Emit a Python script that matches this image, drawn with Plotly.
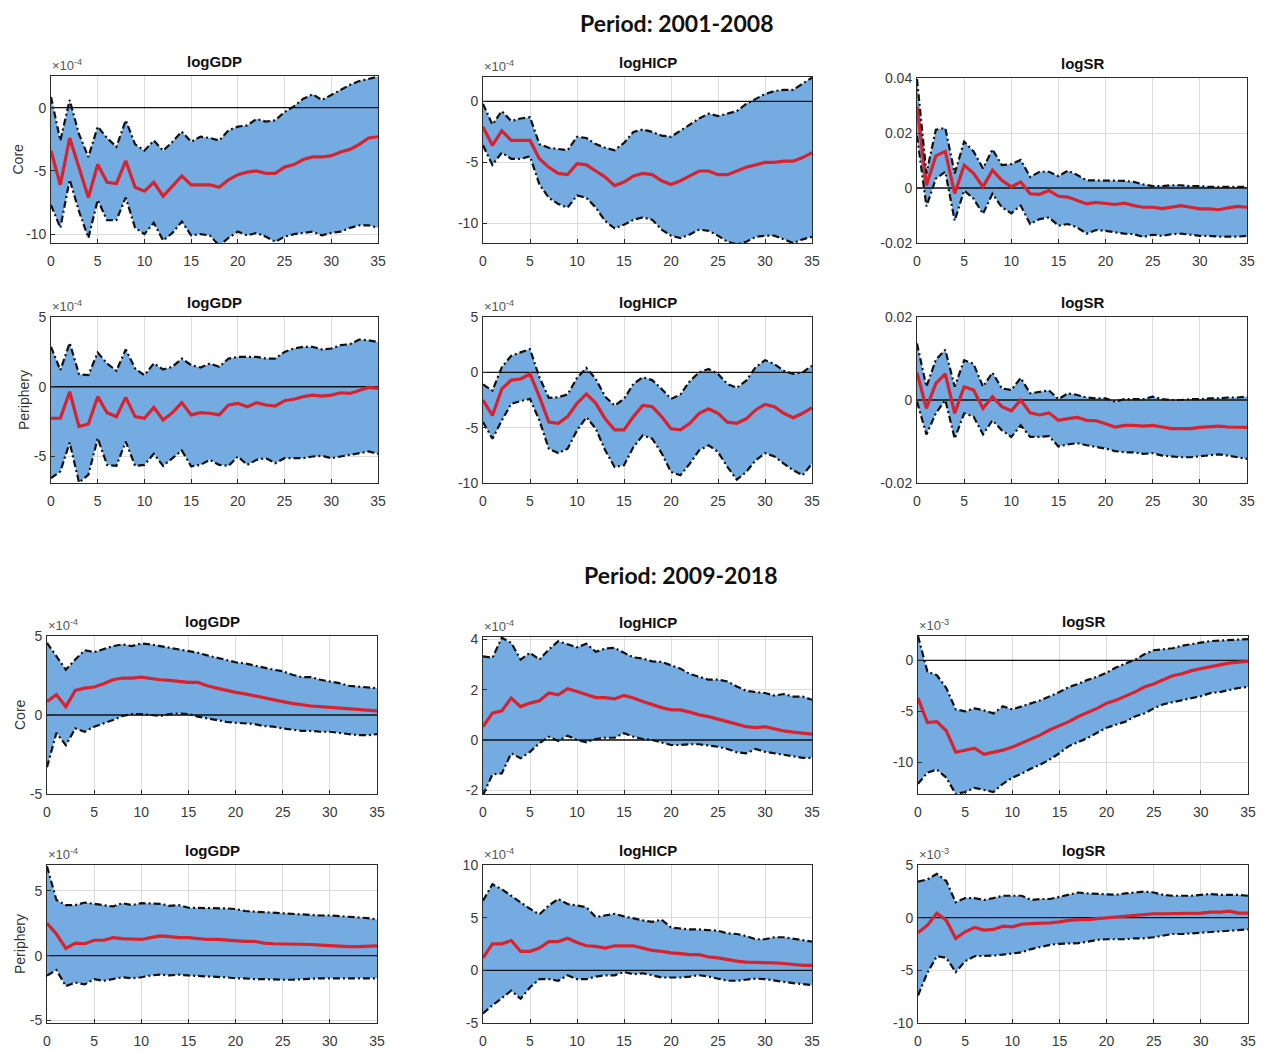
import plotly.graph_objects as go

W, H = 1265, 1053          # browser window
OFF = 8                     # default page margin around the figure
FW, FH = W - OFF, H - OFF   # figure size
HORIZON = list(range(36))

# ---------------- Period 2001-2008 ----------------
# Core logGDP (x1e-4)
a_core_gdp_lo = [-7.7,-9.5,-5.7,-8.2,-10.3,-7.3,-8.9,-8.9,-7.1,-9.5,-10.0,-9.1,-10.5,-9.9,-9.0,-10.1,-10.0,-10.1,-10.9,-10.3,-9.8,-10.1,-9.9,-10.2,-10.6,-10.2,-10.0,-9.9,-9.8,-10.1,-9.9,-9.8,-9.5,-9.3,-9.3,-9.5]
a_core_gdp_md = [-3.4,-6.1,-2.4,-4.7,-7.1,-4.5,-5.9,-6.0,-4.2,-6.3,-6.6,-5.9,-7.0,-6.2,-5.4,-6.1,-6.1,-6.1,-6.3,-5.7,-5.3,-5.1,-5.0,-5.2,-5.2,-4.7,-4.5,-4.1,-3.9,-3.9,-3.8,-3.5,-3.3,-2.9,-2.4,-2.3]
a_core_gdp_hi = [0.85,-2.6,0.6,-2.1,-3.9,-1.5,-2.4,-3.1,-1.0,-2.9,-3.4,-2.6,-3.4,-2.7,-1.9,-2.7,-2.3,-2.4,-2.6,-1.8,-1.5,-1.4,-0.9,-1.1,-1.0,-0.35,0.1,0.7,1.05,0.6,1.0,1.4,1.8,2.1,2.3,2.45]
# Core logHICP (x1e-4)
a_core_hicp_lo = [-3.6,-5.2,-4.2,-4.7,-4.7,-4.5,-6.8,-7.9,-8.4,-8.7,-7.7,-7.9,-8.7,-9.8,-10.4,-10.1,-9.7,-9.5,-9.7,-10.5,-11.0,-11.2,-10.9,-10.5,-10.6,-11.0,-11.5,-11.7,-11.5,-11.1,-11.0,-11.0,-11.3,-11.6,-11.3,-11.1]
a_core_hicp_md = [-2.1,-3.6,-2.4,-3.2,-3.2,-3.2,-4.7,-5.4,-5.9,-6.0,-5.1,-5.2,-5.7,-6.2,-6.9,-6.6,-6.1,-5.9,-6.0,-6.5,-6.8,-6.5,-6.1,-5.7,-5.7,-6.0,-6.0,-5.7,-5.4,-5.2,-5.0,-5.0,-4.9,-4.9,-4.6,-4.2]
a_core_hicp_hi = [-0.2,-1.9,-0.8,-1.6,-1.4,-1.3,-3.5,-3.8,-3.9,-4.0,-2.9,-3.0,-3.5,-3.8,-4.0,-3.4,-2.5,-2.3,-2.5,-2.8,-2.9,-2.4,-1.9,-1.4,-1.0,-1.2,-1.0,-0.8,-0.2,0.2,0.6,0.85,0.95,0.95,1.45,1.95]
# Core logSR
a_core_sr_lo = [0.019,-0.0067,0.0034,0.0059,-0.0119,-0.0009,-0.0039,-0.0094,-0.0021,-0.007,-0.0092,-0.0064,-0.0131,-0.0113,-0.0107,-0.0137,-0.0131,-0.0144,-0.0166,-0.0153,-0.0156,-0.0162,-0.0166,-0.0168,-0.0178,-0.017,-0.0174,-0.0168,-0.0166,-0.017,-0.0174,-0.0174,-0.0177,-0.0177,-0.0177,-0.0174]
a_core_sr_md = [0.0296,0.001,0.0117,0.0133,-0.002,0.0083,0.0053,0.0004,0.0065,0.0028,0.0004,0.0022,-0.0021,-0.0023,-0.0009,-0.003,-0.0033,-0.0045,-0.0058,-0.0052,-0.0055,-0.006,-0.0055,-0.0064,-0.007,-0.007,-0.0075,-0.007,-0.0064,-0.007,-0.0076,-0.0076,-0.0079,-0.0072,-0.0067,-0.007]
a_core_sr_hi = [0.0396,0.0053,0.0212,0.0218,0.0053,0.0169,0.0133,0.0071,0.0141,0.0083,0.0087,0.0102,0.004,0.0059,0.0059,0.0043,0.0063,0.0047,0.0028,0.0028,0.0026,0.0026,0.0026,0.0022,0.0013,0.0007,0.0007,0.001,0.001,0.0007,0.0007,0.0004,0.0004,0.0004,0.0005,0.0004]
# Periphery logGDP (x1e-4)
a_per_gdp_lo = [-6.55,-6.07,-4.0,-6.86,-6.31,-3.69,-5.6,-5.67,-3.93,-5.67,-5.6,-4.81,-5.67,-5.12,-4.57,-5.71,-5.6,-5.24,-5.6,-5.67,-5.0,-5.6,-5.24,-5.12,-5.48,-5.12,-5.12,-5.12,-5.0,-4.95,-5.12,-5.0,-4.88,-4.76,-4.64,-4.81]
a_per_gdp_md = [-2.26,-2.26,-0.36,-2.86,-2.67,-0.71,-1.86,-2.14,-0.76,-2.14,-2.26,-1.48,-2.38,-1.86,-1.14,-2.02,-1.86,-1.9,-2.02,-1.31,-1.19,-1.43,-1.14,-1.31,-1.38,-1.0,-0.9,-0.71,-0.6,-0.67,-0.6,-0.43,-0.48,-0.24,-0.05,-0.12]
a_per_gdp_hi = [2.86,1.19,3.14,0.9,0.83,2.45,1.67,1.14,2.67,1.31,0.83,1.67,1.24,1.43,2.02,1.55,1.38,1.67,1.43,2.02,2.14,2.14,2.14,2.02,2.02,2.5,2.74,2.86,2.86,2.67,2.74,2.98,3.05,3.38,3.33,3.21]
# Periphery logHICP (x1e-4)
a_per_hicp_lo = [-4.5,-6.0,-4.35,-2.85,-2.6,-2.4,-4.35,-6.9,-7.3,-6.9,-5.25,-4.05,-5.1,-7.05,-8.55,-8.4,-6.75,-5.7,-6.0,-7.3,-9.0,-9.3,-8.25,-7.05,-6.6,-7.2,-8.55,-9.7,-9.0,-7.95,-7.3,-7.6,-8.25,-8.85,-9.3,-8.25]
a_per_hicp_md = [-2.5,-3.9,-1.5,-0.7,-0.6,-0.15,-2.2,-4.5,-4.6,-4.0,-2.8,-1.95,-2.8,-4.2,-5.2,-5.2,-4.0,-3.0,-3.1,-4.0,-5.1,-5.2,-4.6,-3.7,-3.3,-3.7,-4.5,-4.6,-4.2,-3.4,-2.9,-3.1,-3.7,-4.1,-3.7,-3.2]
a_per_hicp_hi = [-1.1,-1.65,0.45,1.5,1.8,2.1,-0.45,-2.3,-2.25,-2.0,-0.5,0.4,-0.6,-2.2,-3.0,-2.4,-1.05,-0.45,-0.7,-1.5,-2.4,-2.0,-0.8,0.0,0.3,-0.15,-1.05,-1.4,-0.75,0.45,1.1,0.75,0.15,-0.15,0.0,0.6]
# Periphery logSR
a_per_sr_lo = [-0.0004,-0.0083,-0.0032,0.0,-0.0093,-0.0032,-0.004,-0.0083,-0.0049,-0.0073,-0.0089,-0.0061,-0.0089,-0.0089,-0.0087,-0.0112,-0.0107,-0.0104,-0.0109,-0.0113,-0.0117,-0.0123,-0.0126,-0.0126,-0.013,-0.0128,-0.0134,-0.0136,-0.0138,-0.0138,-0.0136,-0.0134,-0.0131,-0.0134,-0.0138,-0.0142]
a_per_sr_md = [0.0066,-0.002,0.004,0.0063,-0.0032,0.0032,0.0024,-0.002,0.0008,-0.0016,-0.0026,0.0,-0.0031,-0.0036,-0.0031,-0.0049,-0.0045,-0.0042,-0.0049,-0.005,-0.0057,-0.0065,-0.0061,-0.0061,-0.0063,-0.0061,-0.0065,-0.0069,-0.0069,-0.0069,-0.0066,-0.0065,-0.0063,-0.0065,-0.0065,-0.0066]
a_per_sr_hi = [0.0136,0.0032,0.0097,0.0121,0.0032,0.0096,0.0087,0.0032,0.0066,0.0028,0.0024,0.0053,0.0016,0.002,0.0023,0.0002,0.0016,0.0012,0.0006,0.0004,0.0004,-0.0004,0.0002,0.0002,0.0002,0.0008,0.0002,0.0,0.0,0.0002,0.0002,0.0004,0.0004,0.0006,0.0006,0.0008]

# ---------------- Period 2009-2018 ----------------
# Core logGDP (x1e-4)
b_core_gdp_lo = [-3.3,-1.13,-1.91,-0.85,-1.06,-0.74,-0.53,-0.32,-0.06,0.06,0.06,0.0,-0.06,0.06,0.1,0.06,-0.1,-0.21,-0.32,-0.43,-0.49,-0.53,-0.57,-0.7,-0.74,-0.85,-0.91,-1.0,-1.0,-1.06,-1.06,-1.13,-1.21,-1.28,-1.28,-1.21]
b_core_gdp_md = [0.85,1.28,0.53,1.55,1.7,1.77,1.98,2.23,2.34,2.34,2.4,2.3,2.23,2.19,2.13,2.06,2.06,1.85,1.7,1.55,1.43,1.34,1.21,1.06,0.96,0.85,0.74,0.64,0.57,0.53,0.49,0.43,0.36,0.32,0.28,0.26]
b_core_gdp_hi = [4.57,3.72,2.87,3.51,4.1,3.98,4.19,4.36,4.47,4.36,4.53,4.47,4.36,4.26,4.15,4.04,3.94,3.77,3.62,3.51,3.34,3.26,3.13,2.98,2.87,2.77,2.55,2.4,2.4,2.23,2.13,2.02,1.85,1.81,1.77,1.7]
# Core logHICP (x1e-4)
b_core_hicp_lo = [-2.2,-1.37,-1.33,-0.53,-0.73,-0.47,-0.13,0.13,-0.04,0.17,0.0,-0.09,0.04,0.09,0.09,0.27,0.13,0.04,0.0,-0.09,-0.2,-0.2,-0.17,-0.17,-0.23,-0.27,-0.36,-0.49,-0.53,-0.36,-0.47,-0.53,-0.6,-0.67,-0.71,-0.71]
b_core_hicp_md = [0.53,1.07,1.16,1.67,1.33,1.47,1.56,1.87,1.8,2.04,1.93,1.8,1.69,1.69,1.64,1.77,1.67,1.53,1.4,1.29,1.2,1.2,1.11,1.0,0.93,0.84,0.73,0.63,0.53,0.49,0.53,0.44,0.36,0.31,0.27,0.23]
b_core_hicp_hi = [3.33,3.27,4.07,3.87,3.2,3.47,3.2,3.6,3.93,3.8,3.69,3.83,3.51,3.64,3.67,3.47,3.29,3.24,3.13,3.11,2.97,2.84,2.63,2.53,2.4,2.4,2.33,2.13,1.96,1.91,1.87,1.77,1.83,1.73,1.73,1.6]
# Core logSR (x1e-3)
b_core_sr_lo = [-12.1,-11.0,-10.7,-11.5,-13.1,-12.9,-12.5,-12.7,-12.9,-12.1,-11.5,-11.1,-10.6,-10.2,-9.7,-9.1,-8.4,-8.0,-7.6,-7.1,-6.6,-6.3,-6.0,-5.5,-5.2,-4.7,-4.3,-4.1,-3.9,-3.7,-3.5,-3.2,-3.1,-2.9,-2.7,-2.6]
b_core_sr_md = [-3.7,-6.1,-6.0,-6.9,-9.0,-8.8,-8.6,-9.2,-9.0,-8.8,-8.5,-8.1,-7.7,-7.3,-6.8,-6.4,-6.0,-5.5,-5.1,-4.7,-4.2,-3.9,-3.5,-3.1,-2.6,-2.3,-1.9,-1.5,-1.3,-1.0,-0.8,-0.6,-0.4,-0.26,-0.16,-0.1]
b_core_sr_hi = [2.4,-1.1,-1.45,-2.7,-4.8,-5.0,-4.7,-4.9,-5.2,-4.5,-4.8,-4.5,-4.2,-3.9,-3.5,-3.1,-2.6,-2.3,-1.9,-1.6,-1.2,-0.7,-0.3,0.06,0.6,1.0,1.1,1.2,1.45,1.6,1.8,1.9,1.95,2.0,2.1,2.1]
# Periphery logGDP (x1e-4)
b_per_gdp_lo = [-1.53,-1.11,-2.36,-2.08,-2.22,-1.81,-1.94,-1.81,-1.67,-1.75,-1.67,-1.53,-1.47,-1.53,-1.47,-1.53,-1.58,-1.58,-1.64,-1.67,-1.75,-1.75,-1.81,-1.81,-1.86,-1.86,-1.86,-1.81,-1.75,-1.75,-1.75,-1.75,-1.75,-1.75,-1.75,-1.75]
b_per_gdp_md = [2.5,1.67,0.56,0.97,0.92,1.19,1.19,1.39,1.31,1.31,1.25,1.39,1.53,1.47,1.39,1.39,1.31,1.25,1.25,1.19,1.19,1.11,1.11,0.97,0.92,0.92,0.92,0.86,0.86,0.81,0.75,0.69,0.69,0.69,0.69,0.75]
b_per_gdp_hi = [6.9,4.3,3.9,3.9,4.1,4.0,3.9,3.8,4.05,3.9,4.05,4.0,4.0,3.85,3.9,3.7,3.7,3.7,3.65,3.65,3.6,3.45,3.4,3.35,3.3,3.3,3.25,3.15,3.1,3.1,3.1,3.05,3.0,3.0,2.9,2.8]
# Periphery logHICP (x1e-4)
b_per_hicp_lo = [-4.1,-3.32,-2.64,-1.93,-2.7,-1.61,-0.84,-0.84,-0.99,-0.47,-0.84,-0.84,-0.59,-0.47,-0.47,-0.16,-0.37,-0.28,-0.47,-0.68,-0.68,-0.68,-0.59,-0.47,-0.59,-0.78,-0.99,-0.99,-0.9,-0.78,-0.84,-0.99,-1.09,-1.21,-1.3,-1.4]
b_per_hicp_md = [1.18,2.52,2.52,2.83,1.8,1.8,2.11,2.73,2.73,3.04,2.64,2.33,2.27,2.11,2.33,2.33,2.33,2.11,1.89,1.8,1.65,1.58,1.49,1.49,1.27,1.18,1.02,0.87,0.78,0.78,0.78,0.71,0.65,0.56,0.47,0.47]
b_per_hicp_hi = [6.61,8.17,7.7,7.08,6.46,5.84,5.31,6.15,6.77,6.3,6.15,5.99,5.06,5.22,5.37,5.12,4.91,4.75,4.6,4.81,4.07,3.98,3.88,3.88,3.82,3.76,3.51,3.45,3.26,2.95,2.95,3.14,3.14,3.01,2.83,2.73]
# Periphery logSR (x1e-3)
b_per_sr_lo = [-7.39,-5.22,-3.66,-3.82,-5.16,-4.13,-3.66,-3.66,-3.6,-3.51,-3.42,-3.29,-2.98,-2.8,-2.58,-2.48,-2.48,-2.42,-2.27,-2.11,-2.05,-2.05,-2.05,-1.96,-1.96,-1.86,-1.74,-1.55,-1.55,-1.49,-1.43,-1.34,-1.24,-1.18,-1.12,-1.12]
b_per_sr_md = [-1.43,-0.71,0.43,-0.25,-1.96,-1.34,-0.93,-1.18,-1.12,-0.81,-0.87,-0.62,-0.56,-0.56,-0.5,-0.4,-0.25,-0.19,-0.19,-0.09,0.0,0.06,0.12,0.22,0.31,0.37,0.37,0.37,0.43,0.43,0.43,0.53,0.53,0.62,0.43,0.43]
b_per_sr_hi = [3.42,3.63,4.16,3.48,1.46,1.86,1.86,1.68,1.86,2.08,2.08,2.08,1.68,1.77,1.77,1.99,2.17,2.39,2.3,2.24,2.17,2.17,2.3,2.39,2.48,2.39,2.17,2.08,2.08,2.08,2.17,2.24,2.17,2.17,2.17,2.08]

PERIOD_TITLES = ["Period: 2001-2008", "Period: 2009-2018"]
ROW_LABELS = ["Core", "Periphery", "Core", "Periphery"]

# panel definitions: title, data, y range, y ticks, exponent, pixel box in page coords (left,right,top,bottom)
panels = [
    ("logGDP", a_core_gdp_lo, a_core_gdp_md, a_core_gdp_hi, [-10.7, 2.5], [0, -5, -10], ["0", "-5", "-10"], "-4", (51, 378, 76, 243)),
    ("logHICP", a_core_hicp_lo, a_core_hicp_md, a_core_hicp_hi, [-11.6, 2.0], [0, -5, -10], ["0", "-5", "-10"], "-4", (483, 812, 77, 243)),
    ("logSR", a_core_sr_lo, a_core_sr_md, a_core_sr_hi, [-0.02, 0.04], [0.04, 0.02, 0, -0.02], ["0.04", "0.02", "0", "-0.02"], None, (917, 1247, 78, 243)),
    ("logGDP", a_per_gdp_lo, a_per_gdp_md, a_per_gdp_hi, [-6.9, 5], [5, 0, -5], ["5", "0", "-5"], "-4", (51, 378, 317, 483)),
    ("logHICP", a_per_hicp_lo, a_per_hicp_md, a_per_hicp_hi, [-10, 5], [5, 0, -5, -10], ["5", "0", "-5", "-10"], "-4", (483, 812, 317, 483)),
    ("logSR", a_per_sr_lo, a_per_sr_md, a_per_sr_hi, [-0.02, 0.02], [0.02, 0, -0.02], ["0.02", "0", "-0.02"], None, (917, 1247, 317, 483)),
    ("logGDP", b_core_gdp_lo, b_core_gdp_md, b_core_gdp_hi, [-5, 5], [5, 0, -5], ["5", "0", "-5"], "-4", (47, 377, 636, 794)),
    ("logHICP", b_core_hicp_lo, b_core_hicp_md, b_core_hicp_hi, [-2.15, 4.1], [4, 2, 0, -2], ["4", "2", "0", "-2"], "-4", (483, 812, 637, 794)),
    ("logSR", b_core_sr_lo, b_core_sr_md, b_core_sr_hi, [-13.1, 2.4], [0, -5, -10], ["0", "-5", "-10"], "-3", (918, 1248, 636, 794)),
    ("logGDP", b_per_gdp_lo, b_per_gdp_md, b_per_gdp_hi, [-5.2, 7.0], [5, 0, -5], ["5", "0", "-5"], "-4", (47, 377, 865, 1023)),
    ("logHICP", b_per_hicp_lo, b_per_hicp_md, b_per_hicp_hi, [-5, 10], [10, 5, 0, -5], ["10", "5", "0", "-5"], "-4", (483, 812, 865, 1023)),
    ("logSR", b_per_sr_lo, b_per_sr_md, b_per_sr_hi, [-10, 5], [5, 0, -5, -10], ["5", "0", "-5", "-10"], "-3", (918, 1248, 865, 1023)),
]

FILL = "#74ABE1"
RED = "#D8232F"
FONT = "Liberation Sans Narrow, Arial Narrow, Liberation Sans, Arial, sans-serif"
TICKCOL = "#3a3a3a"

def fx(px):
    return (px - OFF) / FW

def fy(py):
    return 1 - (py - OFF) / FH

fig = go.Figure()
annotations = []
layout_axes = {}

for i, (title, lo, md, hi, yr, tv, tt, expo, box) in enumerate(panels, start=1):
    l, r, t, b = box
    xa = "x" if i == 1 else f"x{i}"
    ya = "y" if i == 1 else f"y{i}"
    # band
    fig.add_trace(go.Scatter(x=HORIZON, y=lo, mode="lines", xaxis=xa, yaxis=ya,
                             line=dict(color="rgba(0,0,0,0)", width=0), showlegend=False, hoverinfo="skip"))
    fig.add_trace(go.Scatter(x=HORIZON, y=hi, mode="lines", xaxis=xa, yaxis=ya, fill="tonexty",
                             fillcolor=FILL, line=dict(color="rgba(0,0,0,0)", width=0), showlegend=False, hoverinfo="skip"))
    # zero reference line
    fig.add_trace(go.Scatter(x=[HORIZON[0], HORIZON[-1]], y=[0, 0], mode="lines", xaxis=xa, yaxis=ya,
                             line=dict(color="#111111", width=1.3), showlegend=False, hoverinfo="skip"))
    # median
    fig.add_trace(go.Scatter(x=HORIZON, y=md, mode="lines", xaxis=xa, yaxis=ya,
                             line=dict(color=RED, width=3.2), showlegend=False))
    # bands edges
    for s in (lo, hi):
        fig.add_trace(go.Scatter(x=HORIZON, y=s, mode="lines", xaxis=xa, yaxis=ya,
                                 line=dict(color="#111111", width=2.2, dash="7px,3px,2px,3px"),
                                 showlegend=False))
    key = "" if i == 1 else str(i)
    common = dict(showline=True, mirror=True, linecolor="#2b2b2b", linewidth=1,
                  ticks="inside", ticklen=4, tickcolor="#2b2b2b", automargin=False,
                  showgrid=True, gridcolor="#dcdcdc", gridwidth=1, zeroline=False,
                  tickfont=dict(family=FONT, size=14, color=TICKCOL))
    layout_axes["xaxis" + key] = dict(common, domain=[fx(l), fx(r)], anchor=ya, range=[0, 35],
                                      tickvals=[0, 5, 10, 15, 20, 25, 30, 35], ticklabelstandoff=5)
    layout_axes["yaxis" + key] = dict(common, domain=[fy(b), fy(t)], anchor=xa, range=yr,
                                      tickvals=tv, ticktext=tt, ticklabelstandoff=1)
    annotations.append(dict(text=f"<b>{title}</b>", x=fx((l + r) / 2), y=fy(t - 4), xref="paper", yref="paper",
                            xanchor="center", yanchor="bottom", showarrow=False,
                            font=dict(family=FONT, size=15, color="#111111")))
    if expo:
        annotations.append(dict(text=f"×10<sup>{expo}</sup>", x=fx(l - 1), y=fy(t - 1), xref="paper", yref="paper",
                                xanchor="left", yanchor="bottom", showarrow=False,
                                font=dict(family=FONT, size=13, color="#555555")))

# row labels
for lab, (t, b), xpx in zip(ROW_LABELS, [(76, 243), (317, 483), (636, 794), (865, 1023)], [18, 24, 20, 20]):
    annotations.append(dict(text=lab, x=fx(xpx), y=fy((t + b) / 2), xref="paper", yref="paper",
                            xanchor="center", yanchor="middle", textangle=-90, showarrow=False,
                            font=dict(family=FONT, size=14, color="#333333")))

# period titles (top edge of each title box, in page pixels)
for txt, ypx, xpx in zip(PERIOD_TITLES, [8.5, 560], [676, 680]):
    annotations.append(dict(text=f"<b>{txt}</b>", x=fx(xpx), y=fy(ypx), xref="paper", yref="paper",
                            xanchor="center", yanchor="top", showarrow=False, borderpad=0,
                            font=dict(family="Lato, Open Sans, sans-serif", size=23, color="#111111")))

fig.update_layout(width=FW, height=FH, autosize=False, margin=dict(l=0, r=0, t=0, b=0),
                  paper_bgcolor="white", plot_bgcolor="white", showlegend=False,
                  annotations=annotations, **layout_axes)

fig.write_html("out.html")
